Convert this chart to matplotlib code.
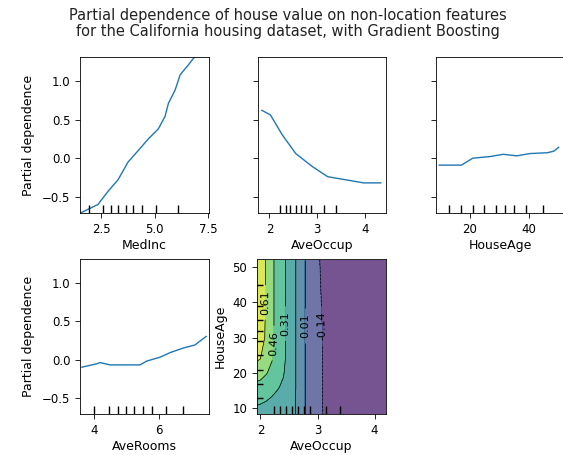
import numpy as np
import matplotlib
matplotlib.use("Agg")
import matplotlib.pyplot as plt

# ---- data ----
medinc_x = [1.53, 2.35, 2.82, 3.29, 3.76, 4.24, 4.71, 5.18, 5.49, 5.65, 5.96, 6.2, 6.59, 6.9, 7.1]
medinc_y = [-0.71, -0.60, -0.43, -0.28, -0.05, 0.10, 0.25, 0.38, 0.54, 0.71, 0.88, 1.08, 1.21, 1.32, 1.36]
medinc_dec = [1.95, 2.6, 2.95, 3.3, 3.65, 4.0, 4.4, 5.05, 6.1]

aveoccup_x = [1.84, 2.02, 2.27, 2.55, 2.9, 3.22, 3.69, 3.97, 4.33]
aveoccup_y = [0.62, 0.56, 0.30, 0.06, -0.11, -0.24, -0.29, -0.32, -0.32]
aveoccup_dec = [2.23, 2.34, 2.44, 2.55, 2.65, 2.76, 2.87, 3.15, 3.39]

houseage_x = [9.7, 17.2, 21.1, 26.8, 31.4, 36.0, 40.5, 46.3, 48.5, 50.2]
houseage_y = [-0.09, -0.09, 0.0, 0.02, 0.05, 0.03, 0.06, 0.07, 0.09, 0.14]
houseage_dec = [13, 17, 21, 25, 29, 32, 35, 39, 45]

averooms_x = [3.62, 4.08, 4.18, 4.49, 5.41, 5.62, 6.03, 6.34, 6.75, 7.11, 7.26, 7.45]
averooms_y = [-0.10, -0.055, -0.04, -0.07, -0.07, -0.02, 0.03, 0.09, 0.15, 0.19, 0.24, 0.30]
averooms_dec = [4.0, 4.45, 4.72, 4.98, 5.24, 5.5, 5.77, 6.2, 6.75]

# 2D partial dependence: AveOccup (x) vs HouseAge (y)
grid_occup = [1.9, 2.0, 2.1, 2.2, 2.3, 2.4, 2.5, 2.6, 2.7, 2.8, 2.9, 3.0, 3.1, 3.2, 3.5, 4.0, 4.3]
grid_age = [8, 12, 16, 20, 24, 30, 40, 52]
pd2d = [
    [0.27, 0.27, 0.26, 0.25, 0.24, 0.23, 0.21, 0.17, 0.08, -0.01, -0.06, -0.10, -0.145, -0.22, -0.27, -0.28, -0.29],
    [0.33, 0.32, 0.31, 0.29, 0.27, 0.25, 0.22, 0.17, 0.08, -0.01, -0.06, -0.10, -0.145, -0.22, -0.27, -0.28, -0.29],
    [0.42, 0.41, 0.38, 0.35, 0.32, 0.29, 0.24, 0.18, 0.08, -0.01, -0.06, -0.10, -0.145, -0.22, -0.27, -0.28, -0.29],
    [0.53, 0.51, 0.47, 0.42, 0.37, 0.32, 0.25, 0.18, 0.08, -0.01, -0.06, -0.10, -0.145, -0.22, -0.27, -0.28, -0.29],
    [0.64, 0.61, 0.55, 0.47, 0.40, 0.34, 0.26, 0.18, 0.08, -0.01, -0.06, -0.10, -0.145, -0.22, -0.27, -0.28, -0.29],
    [0.72, 0.67, 0.59, 0.49, 0.41, 0.34, 0.26, 0.18, 0.08, -0.01, -0.06, -0.10, -0.145, -0.22, -0.27, -0.28, -0.29],
    [0.75, 0.69, 0.60, 0.49, 0.41, 0.34, 0.26, 0.18, 0.08, -0.01, -0.06, -0.11, -0.155, -0.22, -0.27, -0.28, -0.29],
    [0.76, 0.69, 0.60, 0.49, 0.41, 0.34, 0.26, 0.18, 0.08, -0.01, -0.07, -0.12, -0.17, -0.23, -0.27, -0.28, -0.29],
]
# where the contour labels sit (AveOccup, HouseAge)
label_spots = [(2.09, 40.0), (2.23, 28.5), (2.44, 34.0), (2.77, 33.5), (3.09, 33.5)]

title = ("Partial dependence of house value on non-location features\n"
         "for the California housing dataset, with Gradient Boosting")

# ---- figure ----
W, H = 563, 455
fig = plt.figure(figsize=(W / 100, H / 100), dpi=100)
FS = 8.5
LFS = 9

def px_axes(l, t, r, b):
    return fig.add_axes([l / W, 1 - b / H, (r - l) / W, (b - t) / H])

ax1 = px_axes(80, 57, 209, 213)
ax2 = px_axes(258, 57, 386, 213)
ax3 = px_axes(436, 57, 564, 213)
ax4 = px_axes(80, 259, 209, 414)
ax5 = px_axes(257, 259, 386, 414)

ylim = (-0.71, 1.31)

def style(ax):
    ax.tick_params(labelsize=FS, length=3.5, width=0.6, pad=3.5)
    for s in ax.spines.values():
        s.set_linewidth(0.6)

def one_d(ax, xs, ys, dec, xlim, xlabel, show_ylabel):
    ax.plot(xs, ys, color="C0", lw=1.0)
    ax.vlines(dec, 0, 0.05, transform=ax.get_xaxis_transform(), color="k", lw=1.0)
    ax.set_xlim(*xlim)
    ax.set_ylim(*ylim)
    ax.set_yticks([-0.5, 0.0, 0.5, 1.0])
    ax.set_xlabel(xlabel, fontsize=LFS, labelpad=2.5)
    style(ax)
    if show_ylabel:
        ax.set_ylabel("Partial dependence", fontsize=LFS, labelpad=5)
    else:
        ax.tick_params(labelleft=False)

one_d(ax1, medinc_x, medinc_y, medinc_dec, (1.51, 7.55), "MedInc", True)
ax1.set_xticks([2.5, 5.0, 7.5])
one_d(ax2, aveoccup_x, aveoccup_y, aveoccup_dec, (1.76, 4.44), "AveOccup", False)
ax2.set_xticks([2, 3, 4])
one_d(ax3, houseage_x, houseage_y, houseage_dec, (8.6, 52.0), "HouseAge", False)
ax3.set_xticks([20, 40])
one_d(ax4, averooms_x, averooms_y, averooms_dec, (3.56, 7.54), "AveRooms", True)
ax4.set_xticks([4, 6])

# 2D contour
Z = np.array(pd2d)
XX, YY = np.meshgrid(grid_occup, grid_age)
levels = np.linspace(Z.min(), Z.max(), 8)
ax5.contourf(XX, YY, Z, levels=levels, cmap="viridis", alpha=0.75,
             vmin=Z.min(), vmax=Z.max())
cs = ax5.contour(XX, YY, Z, levels=levels, colors="k", linewidths=0.5)
ax5.set_xlim(1.94, 4.2)
ax5.set_ylim(8.4, 52.3)
texts = ax5.clabel(cs, fmt="%2.2f", fontsize=8, inline=True, manual=label_spots)
for t in texts:
    r = t.get_rotation() % 360
    if 180 < r < 360:
        t.set_rotation(r - 180)
ax5.vlines(aveoccup_dec, 0, 0.05, transform=ax5.get_xaxis_transform(), color="k", lw=1.0)
ax5.hlines(houseage_dec, 0, 0.05, transform=ax5.get_yaxis_transform(), color="k", lw=1.0)
ax5.set_xticks([2, 3, 4])
ax5.set_yticks([10, 20, 30, 40, 50])
ax5.set_xlabel("AveOccup", fontsize=LFS, labelpad=2.5)
ax5.set_ylabel("HouseAge", fontsize=LFS)
style(ax5)

fig.suptitle(title, fontsize=10.5, x=0.512, y=0.982, color="#222222", linespacing=1.1)

fig.savefig("out.png", dpi=100)
